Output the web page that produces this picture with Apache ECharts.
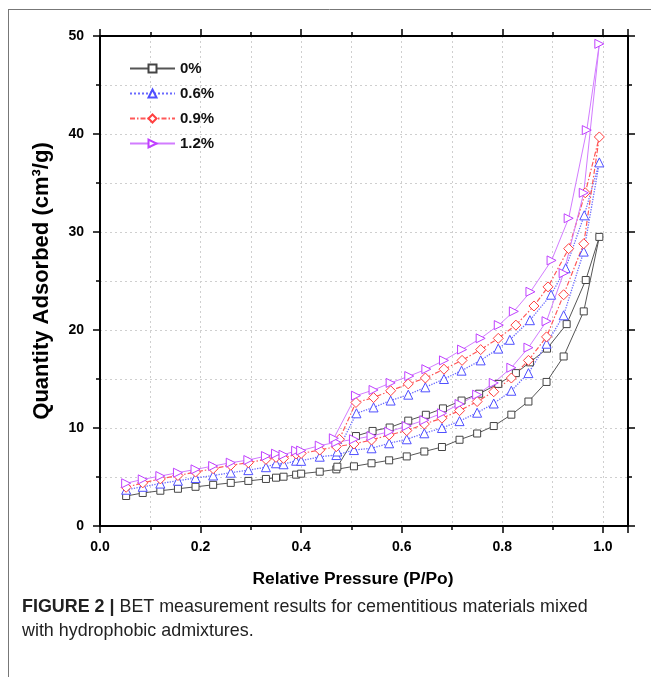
<!DOCTYPE html>
<html>
<head>
<meta charset="utf-8">
<script src="https://cdn.jsdelivr.net/npm/echarts@6/dist/echarts.min.js"></script>
<style>html,body{margin:0;padding:0;background:#fff}#c{width:651px;height:677px}</style>
</head>
<body>
<div id="c"></div>
<script>
// Relative pressure (adsorption branch, shared)
var pAds = [0.052,0.085,0.12,0.155,0.19,0.225,0.26,0.295,0.33,0.35,0.365,0.39,0.40,0.437,0.47,0.505,0.54,0.575,0.61,0.645,0.68,0.715,0.75,0.783,0.818,0.852,0.888,0.922,0.962,0.993];
// 0%
var ads0 = [3.06,3.37,3.6,3.8,4.0,4.2,4.4,4.6,4.8,4.93,5.03,5.24,5.34,5.54,5.78,6.09,6.4,6.7,7.1,7.6,8.06,8.8,9.44,10.2,11.36,12.7,14.7,17.3,21.9,29.5];
var pDes0 = [0.966,0.928,0.889,0.855,0.827,0.792,0.754,0.719,0.682,0.648,0.613,0.576,0.542,0.509,0.472];
var des0 = [25.1,20.6,18.1,16.7,15.6,14.5,13.5,12.8,12.0,11.35,10.75,10.05,9.7,9.18,6.05];
// 0.6%
var ads06 = [3.7,4.0,4.33,4.62,4.9,5.15,5.44,5.7,6.0,6.4,6.3,6.66,6.65,7.07,7.24,7.75,7.93,8.44,8.85,9.46,10.0,10.7,11.56,12.5,13.8,15.6,18.6,21.5,28.0,37.1];
var pDes06 = [0.963,0.926,0.897,0.855,0.815,0.792,0.757,0.719,0.684,0.647,0.613,0.578,0.544,0.51,0.472];
var des06 = [31.7,26.3,23.6,21.0,19.0,18.1,16.9,15.85,15.0,14.15,13.4,12.8,12.1,11.5,7.6];
// 0.9%
var ads09 = [3.95,4.4,4.8,5.15,5.5,5.85,6.2,6.46,6.8,7.0,6.9,7.35,7.4,7.75,8.1,8.37,8.78,9.29,9.73,10.4,11.0,11.77,12.7,13.7,15.1,16.9,19.3,23.6,28.8,39.7];
var pDes09 = [0.965,0.932,0.891,0.863,0.827,0.792,0.757,0.72,0.684,0.647,0.613,0.578,0.544,0.509,0.476];
var des09 = [34.0,28.3,24.4,22.45,20.5,19.15,18.0,16.9,16.0,15.1,14.5,13.8,13.1,12.6,8.85];
// 1.2%
var ads12 = [4.36,4.76,5.1,5.44,5.78,6.12,6.46,6.73,7.14,7.38,7.27,7.68,7.7,8.2,8.55,8.85,9.18,9.62,10.2,10.8,11.5,12.45,13.4,14.6,16.15,18.2,20.9,25.8,34.0,49.2];
var pDes12 = [0.968,0.932,0.898,0.856,0.823,0.793,0.757,0.72,0.684,0.649,0.615,0.578,0.544,0.509,0.465];
var des12 = [40.4,31.4,27.1,23.9,21.9,20.5,19.15,18.0,16.9,16.0,15.3,14.6,13.88,13.3,8.95];

var names = ['0%','0.6%','0.9%','1.2%'];

function loop(px, ay, dx, dy) {
  var d = [];
  for (var i = 0; i < px.length; i++) d.push([px[i], ay[i]]);
  for (var j = 0; j < dx.length; j++) d.push([dx[j], dy[j]]);
  return d;
}

var FONT = 'Liberation Sans, Arial, sans-serif';
var chart = echarts.init(document.getElementById('c'));

function mkSeries(name, data, sym, size, rot, col, lcol, ltype, lw) {
  return {
    name: name, type: 'line', data: data,
    symbol: sym, symbolSize: size, symbolRotate: rot,
    itemStyle: { color: '#fff', borderColor: col, borderWidth: 1 },
    lineStyle: { color: lcol, type: ltype, width: lw },
    emphasis: { disabled: true }, animation: false
  };
}

var gridStyle = { show: true, lineStyle: { color: '#cfcfcf', type: [2, 3], width: 1 } };
function axisCommon() {
  return {
    axisLine: { show: true, onZero: false, lineStyle: { color: '#000', width: 2 } },
    axisTick: { show: true, inside: false, length: 7, lineStyle: { color: '#000', width: 1.5 } },
    minorTick: { show: true, splitNumber: 2, length: 4, lineStyle: { color: '#000', width: 1.5 } },
    splitLine: gridStyle,
    minorSplitLine: gridStyle
  };
}

var xBottom = Object.assign(axisCommon(), {
  type: 'value', min: 0, max: 1.05, interval: 0.2, position: 'bottom',
  name: 'Relative Pressure (P/Po)', nameLocation: 'middle', nameGap: 45,
  nameTextStyle: { fontFamily: FONT, fontWeight: 'bold', fontSize: 17.4, color: '#000', padding: [0, 22, 0, 0] },
  axisLabel: { show: true, margin: 14, fontFamily: FONT, fontWeight: 'bold', fontSize: 14, color: '#000',
    showMaxLabel: false, formatter: function (v) { return v.toFixed(1); } }
});
var xTop = Object.assign(axisCommon(), {
  type: 'value', min: 0, max: 1.05, interval: 0.2, position: 'top',
  axisLabel: { show: false }, splitLine: { show: false }, minorSplitLine: { show: false }
});
var yLeft = Object.assign(axisCommon(), {
  type: 'value', min: 0, max: 50, interval: 10, position: 'left',
  name: 'Quantity Adsorbed (cm\u00B3/g)', nameLocation: 'middle', nameGap: 47, nameRotate: 90,
  nameTextStyle: { fontFamily: FONT, fontWeight: 'bold', fontSize: 22, color: '#000' },
  axisLabel: { show: true, margin: 16, fontFamily: FONT, fontWeight: 'bold', fontSize: 14, color: '#000' }
});
var yRight = Object.assign(axisCommon(), {
  type: 'value', min: 0, max: 50, interval: 10, position: 'right',
  axisLabel: { show: false }, splitLine: { show: false }, minorSplitLine: { show: false }
});

chart.setOption({
  animation: false,
  backgroundColor: '#fff',
  grid: { left: 100, right: 23, top: 36, bottom: 151, containLabel: false },
  xAxis: [xBottom, xTop],
  yAxis: [yLeft, yRight],
  legend: {
    orient: 'vertical', left: 124, top: 56, itemWidth: 45, itemHeight: 10, itemGap: 10,
    textStyle: { fontFamily: FONT, fontWeight: 'bold', fontSize: 15, color: '#111' },
    data: names
  },
  series: [
    mkSeries(names[0], loop(pAds, ads0, pDes0, des0), 'rect', 7, 0, '#444', '#555', 'solid', 1),
    mkSeries(names[1], loop(pAds, ads06, pDes06, des06), 'triangle', 9, 0, '#5050ff', '#6a6aff', 'dotted', 1.3),
    mkSeries(names[2], loop(pAds, ads09, pDes09, des09), 'diamond', 10, 0, '#ff4040', '#ff5858', [5, 2, 1.5, 2], 1.2),
    mkSeries(names[3], loop(pAds, ads12, pDes12, des12), 'triangle', 9, -90, '#c040ff', '#d27cff', 'solid', 1)
  ],
  graphic: [
    { type: 'line', shape: { x1: 8, y1: 9.5, x2: 651, y2: 9.5 }, style: { stroke: '#777', lineWidth: 1 } },
    { type: 'line', shape: { x1: 8.5, y1: 9, x2: 8.5, y2: 677 }, style: { stroke: '#777', lineWidth: 1 } },
    { type: 'text', left: 22, top: 595, style: {
        text: '{b|FIGURE 2 |} BET measurement results for cementitious materials mixed\nwith hydrophobic admixtures.',
        font: '17.9px ' + FONT, fill: '#222', lineHeight: 24,
        rich: { b: { fontWeight: 'bold', fontSize: 17.9, fontFamily: FONT, fill: '#222' } }
    } }
  ]
});
</script>
</body>
</html>
